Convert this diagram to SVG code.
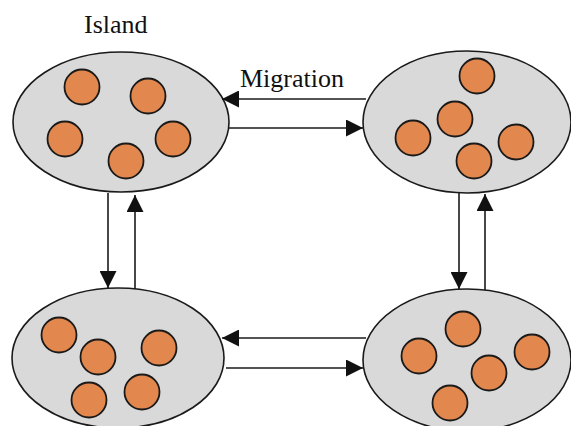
<svg xmlns="http://www.w3.org/2000/svg" width="571" height="426" viewBox="0 0 571 426">
  <style>
    .island { fill: #d9d9d9; stroke: #1a1a1a; stroke-width: 1.6; }
    .ind { fill: #e2874d; stroke: #1a1a1a; stroke-width: 1.8; }
    .link { fill: none; stroke: #1a1a1a; stroke-width: 1.6; marker-end: url(#head); }
    .label { font-family: "Liberation Serif", "Times New Roman", serif; font-size: 26px; fill: #111; }
  </style>
  <defs>
    <marker id="head" markerUnits="userSpaceOnUse" markerWidth="18" markerHeight="17" refX="17" refY="8.5" orient="auto">
      <path d="M0,0 L17,8.5 L0,17 z" fill="#111"/>
    </marker>
  </defs>
  <rect width="571" height="426" fill="#ffffff"/>

  <text class="label" x="84" y="33">Island</text>
  <text class="label" x="240" y="87">Migration</text>

  <g id="island-top-left">
    <ellipse class="island" cx="121" cy="122" rx="108" ry="70"/>
    <circle class="ind" cx="82" cy="87" r="17.5"/>
    <circle class="ind" cx="148" cy="96" r="17.5"/>
    <circle class="ind" cx="65" cy="139" r="17.5"/>
    <circle class="ind" cx="173" cy="139" r="17.5"/>
    <circle class="ind" cx="126" cy="161" r="17.5"/>
  </g>

  <g id="island-top-right">
    <ellipse class="island" cx="467" cy="122" rx="104" ry="71"/>
    <circle class="ind" cx="477" cy="76" r="17.5"/>
    <circle class="ind" cx="455" cy="119" r="17.5"/>
    <circle class="ind" cx="413" cy="138" r="17.5"/>
    <circle class="ind" cx="516" cy="142" r="17.5"/>
    <circle class="ind" cx="474" cy="161" r="17.5"/>
  </g>

  <g id="island-bottom-left">
    <ellipse class="island" cx="118" cy="358" rx="106" ry="70"/>
    <circle class="ind" cx="59" cy="335" r="17.5"/>
    <circle class="ind" cx="98" cy="357" r="17.5"/>
    <circle class="ind" cx="159" cy="348" r="17.5"/>
    <circle class="ind" cx="89" cy="400" r="17.5"/>
    <circle class="ind" cx="142" cy="392" r="17.5"/>
  </g>

  <g id="island-bottom-right">
    <ellipse class="island" cx="467" cy="360" rx="104" ry="71"/>
    <circle class="ind" cx="463" cy="329" r="17.5"/>
    <circle class="ind" cx="419" cy="356" r="17.5"/>
    <circle class="ind" cx="532" cy="352" r="17.5"/>
    <circle class="ind" cx="489" cy="373" r="17.5"/>
    <circle class="ind" cx="450" cy="403" r="17.5"/>
  </g>

  <g id="connectors">
    <!-- top pair -->
    <line class="link" x1="366" y1="99" x2="222" y2="99"/>
    <line class="link" x1="229" y1="128" x2="363" y2="128"/>
    <!-- left pair -->
    <line class="link" x1="108" y1="193" x2="108" y2="288"/>
    <line class="link" x1="135" y1="289" x2="135" y2="195"/>
    <!-- bottom pair -->
    <line class="link" x1="366" y1="338" x2="222" y2="338"/>
    <line class="link" x1="226" y1="368" x2="363" y2="368"/>
    <!-- right pair -->
    <line class="link" x1="459" y1="193" x2="459" y2="289"/>
    <line class="link" x1="485" y1="290" x2="485" y2="194"/>
  </g>
</svg>
